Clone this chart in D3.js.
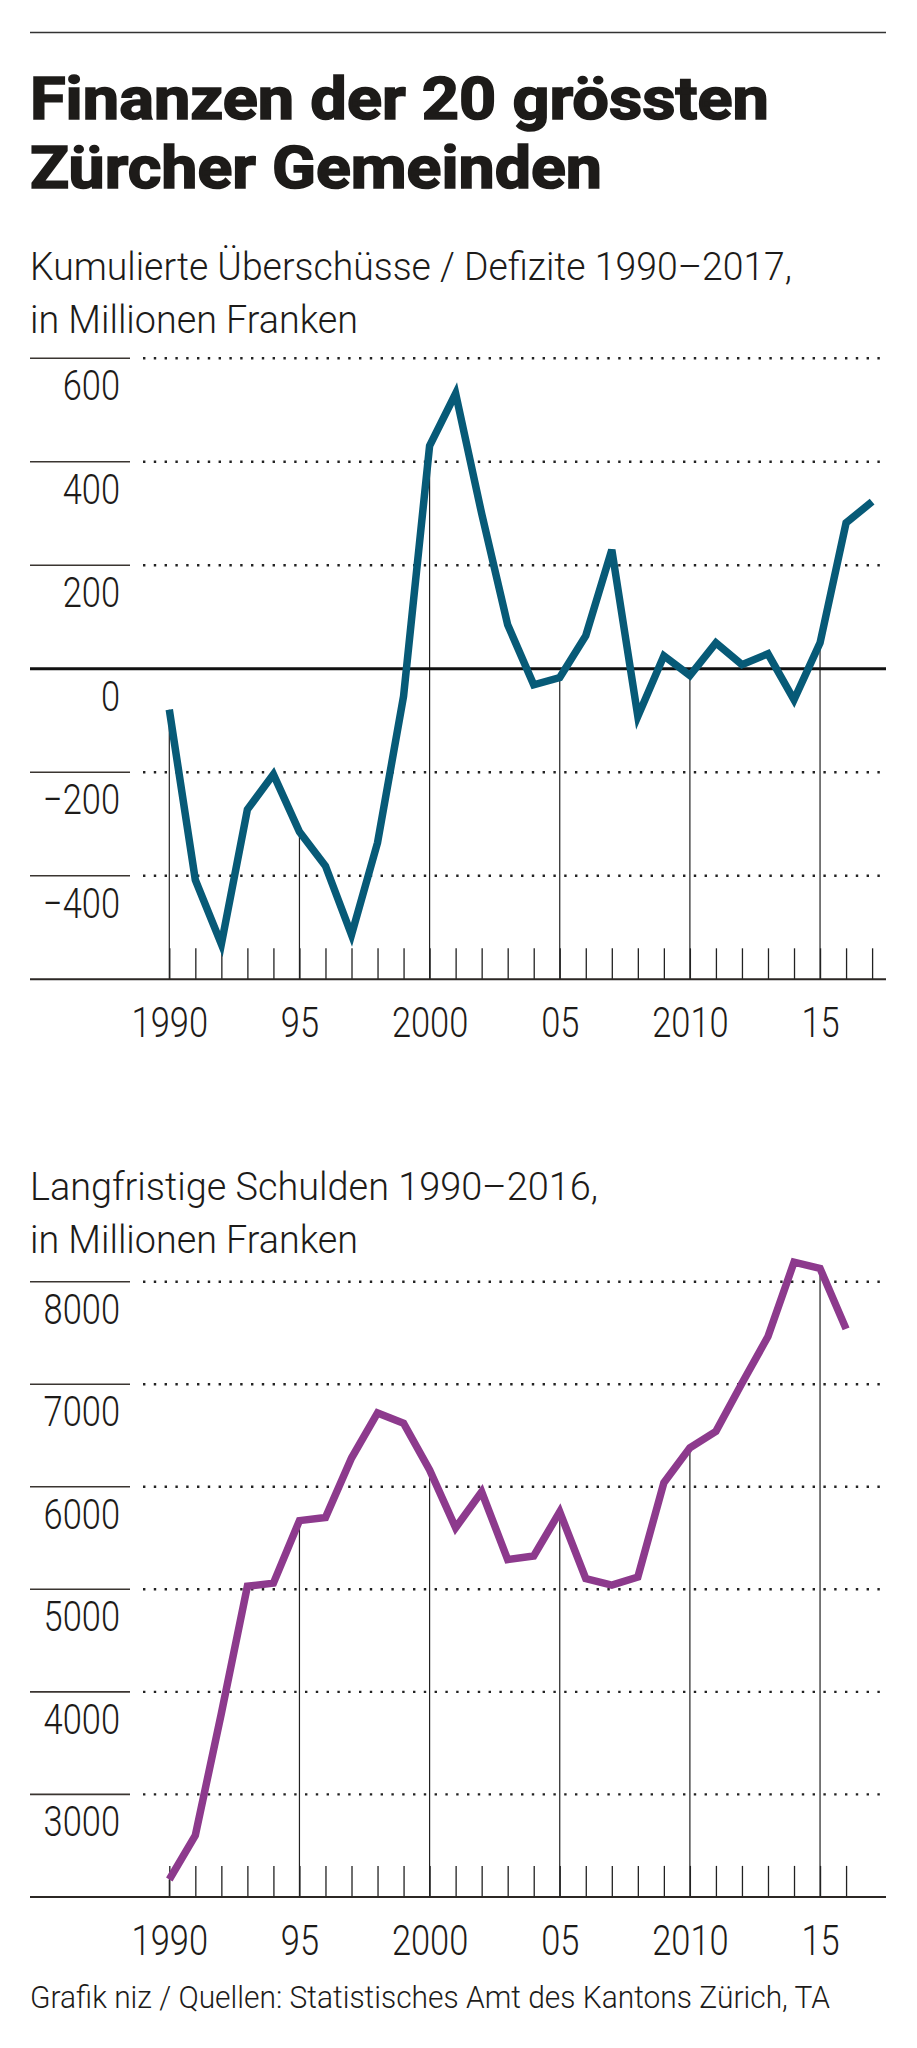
<!DOCTYPE html>
<html>
<head>
<meta charset="utf-8">
<script src="https://cdn.jsdelivr.net/npm/d3@7"></script>
<style>
  body { margin: 0; background: #fff; }
  svg { display: block; }
</style>
</head>
<body>
<svg id="chart" width="917" height="2048"></svg>
<script>
// years and values
const yearsTop = [1990, 1991, 1992, 1993, 1994, 1995, 1996, 1997, 1998, 1999, 2000, 2001, 2002, 2003,
  2004, 2005, 2006, 2007, 2008, 2009, 2010, 2011, 2012, 2013, 2014, 2015, 2016, 2017];
const surplus = [-79, -408, -532, -272, -204, -315, -381, -514, -336, -53, 431, 532, 300, 85,
  -31, -17, 64, 230, -92, 25, -13, 50, 8, 29, -60, 50, 282, 323];

const yearsBottom = [1990, 1991, 1992, 1993, 1994, 1995, 1996, 1997, 1998, 1999, 2000, 2001, 2002, 2003,
  2004, 2005, 2006, 2007, 2008, 2009, 2010, 2011, 2012, 2013, 2014, 2015, 2016];
const debt = [2170, 2600, 3790, 5030, 5060, 5670, 5700, 6280, 6720, 6620, 6165, 5600, 5950, 5290,
  5325, 5755, 5105, 5040, 5120, 6040, 6380, 6540, 7010, 7465, 8190, 8130, 7540];

const ticksTop = [600, 400, 200, -200, -400];
const ticksBottom = [8000, 7000, 6000, 5000, 4000, 3000];
const yearLabels = { 1990: "1990", 1995: "95", 2000: "2000", 2005: "05", 2010: "2010", 2015: "15" };
const dropYears = [1990, 1995, 2000, 2005, 2010, 2015];

const ink = "#1d1b19";
const sans = "Roboto, 'Noto Sans', sans-serif";
const numScale = 0.82;

const svg = d3.select("#chart");
svg.append("rect").attr("width", 917).attr("height", 2048).attr("fill", "#fff");

// top rule
svg.append("line")
  .attr("x1", 30).attr("x2", 886).attr("y1", 32.5).attr("y2", 32.5)
  .attr("stroke", "#333").attr("stroke-width", 1.6);

// helper for text squeezed to a given width
function squeezed(txt, x, y, size, weight, width) {
  return svg.append("text")
    .attr("x", x).attr("y", y)
    .attr("font-family", sans).attr("font-size", size).attr("font-weight", weight)
    .attr("fill", ink)
    .attr("textLength", width).attr("lengthAdjust", "spacingAndGlyphs")
    .text(txt);
}

// title is a heavy condensed face in the original, fatten it a bit
squeezed("Finanzen der 20 grössten", 30, 119, 59, 700, 739)
  .attr("stroke", ink).attr("stroke-width", 1.6);
squeezed("Zürcher Gemeinden", 30, 188, 59, 700, 572)
  .attr("stroke", ink).attr("stroke-width", 1.6);
squeezed("Kumulierte Überschüsse / Defizite 1990–2017,", 30, 280, 38, 300, 762);
squeezed("in Millionen Franken", 30, 333, 38, 300, 328);
squeezed("Langfristige Schulden 1990–2016,", 30, 1200, 38, 300, 568);
squeezed("in Millionen Franken", 30, 1253, 38, 300, 328);
squeezed("Grafik niz / Quellen: Statistisches Amt des Kantons Zürich, TA", 30, 2008, 32, 300, 800);

const x = d3.scaleLinear().domain([1990, 2017]).range([169.3, 872.1]);

function drawChart(opts) {
  const { years, values, y, ticks, zeroLine, color, axisY } = opts;
  const g = svg.append("g");

  // gridlines: short solid piece on the left, dotted run to the right
  ticks.forEach(v => {
    g.append("line")
      .attr("x1", 30).attr("x2", 130).attr("y1", y(v)).attr("y2", y(v))
      .attr("stroke", "#3a3531").attr("stroke-width", 1.6);
    g.append("line")
      .attr("x1", 143).attr("x2", 884).attr("y1", y(v)).attr("y2", y(v))
      .attr("stroke", "#222").attr("stroke-width", 2.4)
      .attr("stroke-dasharray", "2.4 8.4");
  });

  // value labels hang under their lines
  const labels = zeroLine ? ticks.concat([0]) : ticks;
  labels.forEach(v => {
    g.append("text")
      .attr("transform", `translate(120,${y(v) + 42}) scale(${numScale},1)`)
      .attr("text-anchor", "end")
      .attr("font-family", sans).attr("font-size", 42).attr("font-weight", 300)
      .attr("fill", ink)
      .text(d3.format("")(v).replace("-", "–"));
  });

  // drop lines from the line down to the axis
  dropYears.filter(yr => years.includes(yr)).forEach(yr => {
    const v = values[years.indexOf(yr)];
    g.append("line")
      .attr("x1", x(yr)).attr("x2", x(yr))
      .attr("y1", y(v)).attr("y2", axisY)
      .attr("stroke", "#222").attr("stroke-width", 1.2);
  });

  // year axis: ticks point up, labels below
  const axis = d3.axisBottom(x)
    .tickValues(years)
    .tickSizeInner(-31).tickSizeOuter(0)
    .tickPadding(28)
    .tickFormat(d => yearLabels[d] || "");
  const ax = g.append("g").attr("transform", `translate(0,${axisY})`).call(axis);
  ax.select(".domain").remove();
  ax.selectAll(".tick line").attr("stroke", "#222").attr("stroke-width", 1.3);
  ax.selectAll(".tick text")
    .attr("font-family", sans).attr("font-size", 42).attr("font-weight", 300)
    .attr("fill", ink)
    .attr("transform", `scale(${numScale},1)`);

  g.append("line")
    .attr("x1", 30).attr("x2", 886).attr("y1", axisY).attr("y2", axisY)
    .attr("stroke", "#2b2724").attr("stroke-width", 2);

  if (zeroLine) {
    g.append("line")
      .attr("x1", 30).attr("x2", 886).attr("y1", y(0)).attr("y2", y(0))
      .attr("stroke", "#111").attr("stroke-width", 3);
  }

  g.append("path")
    .datum(values)
    .attr("fill", "none")
    .attr("stroke", color)
    .attr("stroke-width", 7.5)
    .attr("stroke-linejoin", "miter")
    .attr("d", d3.line()
      .x((d, i) => x(years[i]))
      .y(d => y(d)));
}

const yTop = d3.scaleLinear().domain([-600, 600]).range([979.3, 358.3]);
drawChart({
  years: yearsTop, values: surplus, y: yTop, ticks: ticksTop,
  zeroLine: true, color: "#075a77", axisY: yTop(-600)
});

const yBottom = d3.scaleLinear().domain([2000, 8000]).range([1896.9, 1281.7]);
drawChart({
  years: yearsBottom, values: debt, y: yBottom, ticks: ticksBottom,
  zeroLine: false, color: "#8d3a8d", axisY: yBottom(2000)
});
</script>
</body>
</html>
